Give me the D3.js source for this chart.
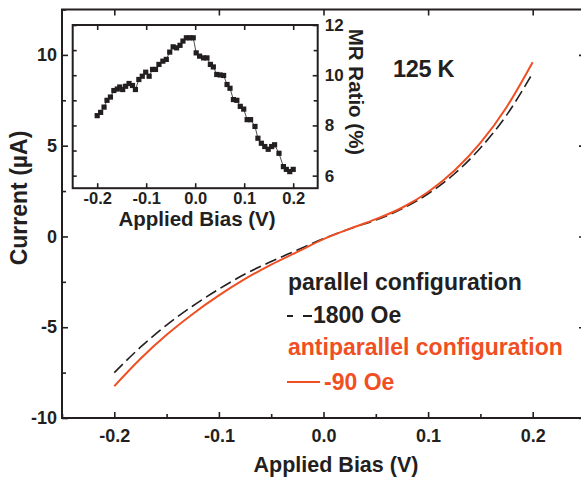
<!DOCTYPE html>
<html>
<head>
<meta charset="utf-8">
<script src="https://cdn.jsdelivr.net/npm/d3@7"></script>
<style>
  body { margin: 0; background: #fff; }
  text { font-family: "Liberation Sans", Arial, sans-serif; font-weight: bold; fill: #231f20; }
</style>
</head>
<body>
<script>
// Main plot data: applied bias (V) vs current (uA)
var biasValues = [-0.2, -0.175, -0.15, -0.125, -0.1, -0.075, -0.05, -0.025, 0,
                  0.025, 0.05, 0.075, 0.1, 0.125, 0.15, 0.175, 0.2];
var parallelCurrent = [-7.5, -6.1, -4.88, -3.83, -2.9, -2.07, -1.38, -0.75, -0.12,
                       0.42, 0.9, 1.52, 2.35, 3.44, 4.87, 6.68, 9.0];
var antiparallelCurrent = [-8.25, -6.74, -5.42, -4.27, -3.25, -2.34, -1.55, -0.85, -0.15,
                           0.42, 0.95, 1.58, 2.45, 3.62, 5.15, 7.12, 9.6];

// Inset data: applied bias (V) vs MR ratio (%)
var insetBias = [-0.2, -0.193, -0.186, -0.18, -0.173, -0.166, -0.159, -0.154, -0.148, -0.142,
                 -0.135, -0.128, -0.122, -0.115, -0.108, -0.101, -0.094, -0.087, -0.081, -0.074,
                 -0.066, -0.059, -0.052, -0.045, -0.038, -0.031, -0.025, -0.018, -0.011, -0.004,
                 0.002, 0.009, 0.017, 0.024, 0.031, 0.037, 0.044, 0.051, 0.058, 0.065,
                 0.071, 0.078, 0.085, 0.092, 0.099, 0.106, 0.113, 0.122, 0.128, 0.135,
                 0.142, 0.149, 0.156, 0.162, 0.171, 0.18, 0.186, 0.193, 0.2];
var insetMR = [8.39, 8.52, 8.73, 9.0, 9.13, 9.39, 9.45, 9.53, 9.43, 9.56,
               9.67, 9.59, 9.43, 9.83, 9.96, 10.12, 9.96, 10.23, 10.23, 10.43,
               10.56, 10.63, 10.92, 11.13, 11.09, 11.19, 11.36, 11.49, 11.49, 11.49,
               10.89, 10.76, 10.69, 10.69, 10.43, 10.33, 10.03, 10.01, 9.99, 9.63,
               9.48, 9.03, 9.0, 8.76, 8.65, 8.23, 8.23, 7.96, 7.49, 7.29,
               7.16, 7.05, 7.16, 7.23, 6.89, 6.36, 6.25, 6.16, 6.25];

// Tick values
var mainXTicks = [-0.2, -0.1, 0.0, 0.1, 0.2];
var mainXMinor = [-0.25, -0.15, -0.05, 0.05, 0.15];
var mainYTicks = [-10, -5, 0, 5, 10];
var mainYMinor = [-7.5, -2.5, 2.5, 7.5, 12.5];
var insetXTicks = [-0.2, -0.1, 0.0, 0.1, 0.2];
var insetYTicks = [6, 8, 10, 12];
var insetYMinor = [7, 9, 11];

var orange = "#ef4f23";
var ink = "#231f20";

var svg = d3.select("body")
    .append("svg")
    .attr("width", 581)
    .attr("height", 477);

// Scales for the main plot
var x = d3.scaleLinear().domain([-0.25, 0.25]).range([62, 585]);
var y = d3.scaleLinear().domain([-10, 12.5]).range([418, 9.5]);

function styleAxis(g, size) {
    g.select(".domain").remove();
    g.selectAll(".tick line").attr("stroke", ink).attr("stroke-width", 1.6);
    g.selectAll(".tick text").style("font-size", size + "px").attr("fill", ink);
}

function fmtX(d) { return d3.format(".1f")(d).replace("\u2212", "-"); }
function fmtY(d) { return String(d); }

// Main axes: ticks point inward on all four sides
svg.append("g").attr("transform", "translate(0,418)")
    .call(d3.axisBottom(x).tickValues(mainXTicks).tickSize(-6).tickPadding(11).tickFormat(fmtX))
    .call(styleAxis, 18);
svg.append("g").attr("transform", "translate(0,418)")
    .call(d3.axisBottom(x).tickValues(mainXMinor).tickSize(-4).tickFormat(""))
    .call(styleAxis, 18);
svg.append("g").attr("transform", "translate(0,9.5)")
    .call(d3.axisTop(x).tickValues(mainXTicks).tickSize(-6).tickFormat(""))
    .call(styleAxis, 18);
svg.append("g").attr("transform", "translate(62,0)")
    .call(d3.axisLeft(y).tickValues(mainYTicks).tickSize(-6).tickPadding(5).tickFormat(fmtY))
    .call(styleAxis, 18);
svg.append("g").attr("transform", "translate(62,0)")
    .call(d3.axisLeft(y).tickValues(mainYMinor).tickSize(-4).tickFormat(""))
    .call(styleAxis, 18);
svg.append("g").attr("transform", "translate(585,0)")
    .call(d3.axisRight(y).tickValues(mainYTicks).tickSize(-6).tickFormat(""))
    .call(styleAxis, 18);

// Main frame
svg.append("rect")
    .attr("x", x(-0.25)).attr("y", y(12.5))
    .attr("width", x(0.25) - x(-0.25)).attr("height", y(-10) - y(12.5))
    .attr("fill", "none").attr("stroke", ink).attr("stroke-width", 2);

// Axis titles
svg.append("text")
    .attr("x", 336).attr("y", 464).attr("dy", "0.35em")
    .attr("text-anchor", "middle").style("font-size", "21.5px")
    .text("Applied Bias (V)");
svg.append("text")
    .attr("transform", "translate(19,198) rotate(-90)")
    .attr("dy", "0.35em").attr("text-anchor", "middle").style("font-size", "23px")
    .text("Current (\u00b5A)");

// I-V curves
var line = d3.line()
    .x(function (d) { return x(d[0]); })
    .y(function (d) { return y(d[1]); })
    .curve(d3.curveMonotoneX);

svg.append("path")
    .attr("d", line(d3.zip(biasValues, parallelCurrent)))
    .attr("fill", "none").attr("stroke", ink).attr("stroke-width", 1.6)
    .attr("stroke-dasharray", "12,5");
svg.append("path")
    .attr("d", line(d3.zip(biasValues, antiparallelCurrent)))
    .attr("fill", "none").attr("stroke", orange).attr("stroke-width", 2);

// Temperature label
svg.append("text")
    .attr("x", 393).attr("y", 69).attr("dy", "0.35em")
    .style("font-size", "23.5px").style("letter-spacing", "-0.3px")
    .text("125 K");

// Legend
var legendSize = "23px";
svg.append("text").attr("x", 288).attr("y", 282).attr("dy", "0.35em")
    .style("font-size", legendSize).text("parallel configuration");
svg.append("line")
    .attr("x1", 287).attr("x2", 312).attr("y1", 316).attr("y2", 316)
    .attr("stroke", ink).attr("stroke-width", 1.8).attr("stroke-dasharray", "6,10,9");
svg.append("text").attr("x", 313).attr("y", 315).attr("dy", "0.35em")
    .style("font-size", legendSize).text("1800 Oe");
svg.append("text").attr("x", 288).attr("y", 347).attr("dy", "0.35em")
    .style("font-size", legendSize).style("fill", orange)
    .text("antiparallel configuration");
svg.append("line")
    .attr("x1", 287).attr("x2", 320).attr("y1", 382).attr("y2", 382)
    .attr("stroke", orange).attr("stroke-width", 1.8);
svg.append("text").attr("x", 324).attr("y", 382).attr("dy", "0.35em")
    .style("font-size", legendSize).style("fill", orange).text("-90 Oe");

// Inset
var ix = d3.scaleLinear().domain([-0.25, 0.25]).range([72.7, 317.7]);
var iy = d3.scaleLinear().domain([5.5, 12]).range([188.2, 25]);

svg.append("rect")
    .attr("x", ix(-0.25)).attr("y", iy(12))
    .attr("width", ix(0.25) - ix(-0.25)).attr("height", iy(5.5) - iy(12))
    .attr("fill", "#fff").attr("stroke", ink).attr("stroke-width", 2);

svg.append("g").attr("transform", "translate(0," + iy(5.5) + ")")
    .call(d3.axisBottom(ix).tickValues(insetXTicks).tickSize(-5).tickPadding(4).tickFormat(fmtX))
    .call(styleAxis, 16.5);
svg.append("g").attr("transform", "translate(0," + iy(12) + ")")
    .call(d3.axisTop(ix).tickValues(insetXTicks).tickSize(-5).tickFormat(""))
    .call(styleAxis, 17);
svg.append("g").attr("transform", "translate(" + ix(0.25) + ",0)")
    .call(d3.axisRight(iy).tickValues(insetYTicks).tickSize(-5).tickPadding(7).tickFormat(fmtY))
    .call(styleAxis, 17);
svg.append("g").attr("transform", "translate(" + ix(0.25) + ",0)")
    .call(d3.axisRight(iy).tickValues(insetYMinor).tickSize(-4).tickFormat(""))
    .call(styleAxis, 17);
svg.append("g").attr("transform", "translate(" + ix(-0.25) + ",0)")
    .call(d3.axisLeft(iy).tickValues(insetYTicks.concat(insetYMinor)).tickSize(-4).tickFormat(""))
    .call(styleAxis, 17);

svg.append("text")
    .attr("x", 197).attr("y", 219).attr("dy", "0.35em")
    .attr("text-anchor", "middle").style("font-size", "20.5px")
    .text("Applied Bias (V)");
svg.append("text")
    .attr("transform", "translate(356,92) rotate(90)")
    .attr("dy", "0.35em").attr("text-anchor", "middle").style("font-size", "20.5px")
    .text("MR Ratio (%)");

var insetPoints = d3.zip(insetBias, insetMR);
var insetLine = d3.line()
    .x(function (d) { return ix(d[0]); })
    .y(function (d) { return iy(d[1]); });

svg.append("path")
    .attr("d", insetLine(insetPoints))
    .attr("fill", "none").attr("stroke", ink).attr("stroke-width", 0.8);
svg.append("g").selectAll("rect")
    .data(insetPoints)
    .join("rect")
    .attr("x", function (d) { return ix(d[0]) - 2.6; })
    .attr("y", function (d) { return iy(d[1]) - 2.6; })
    .attr("width", 5.2).attr("height", 5.2)
    .attr("fill", ink);
</script>
</body>
</html>
